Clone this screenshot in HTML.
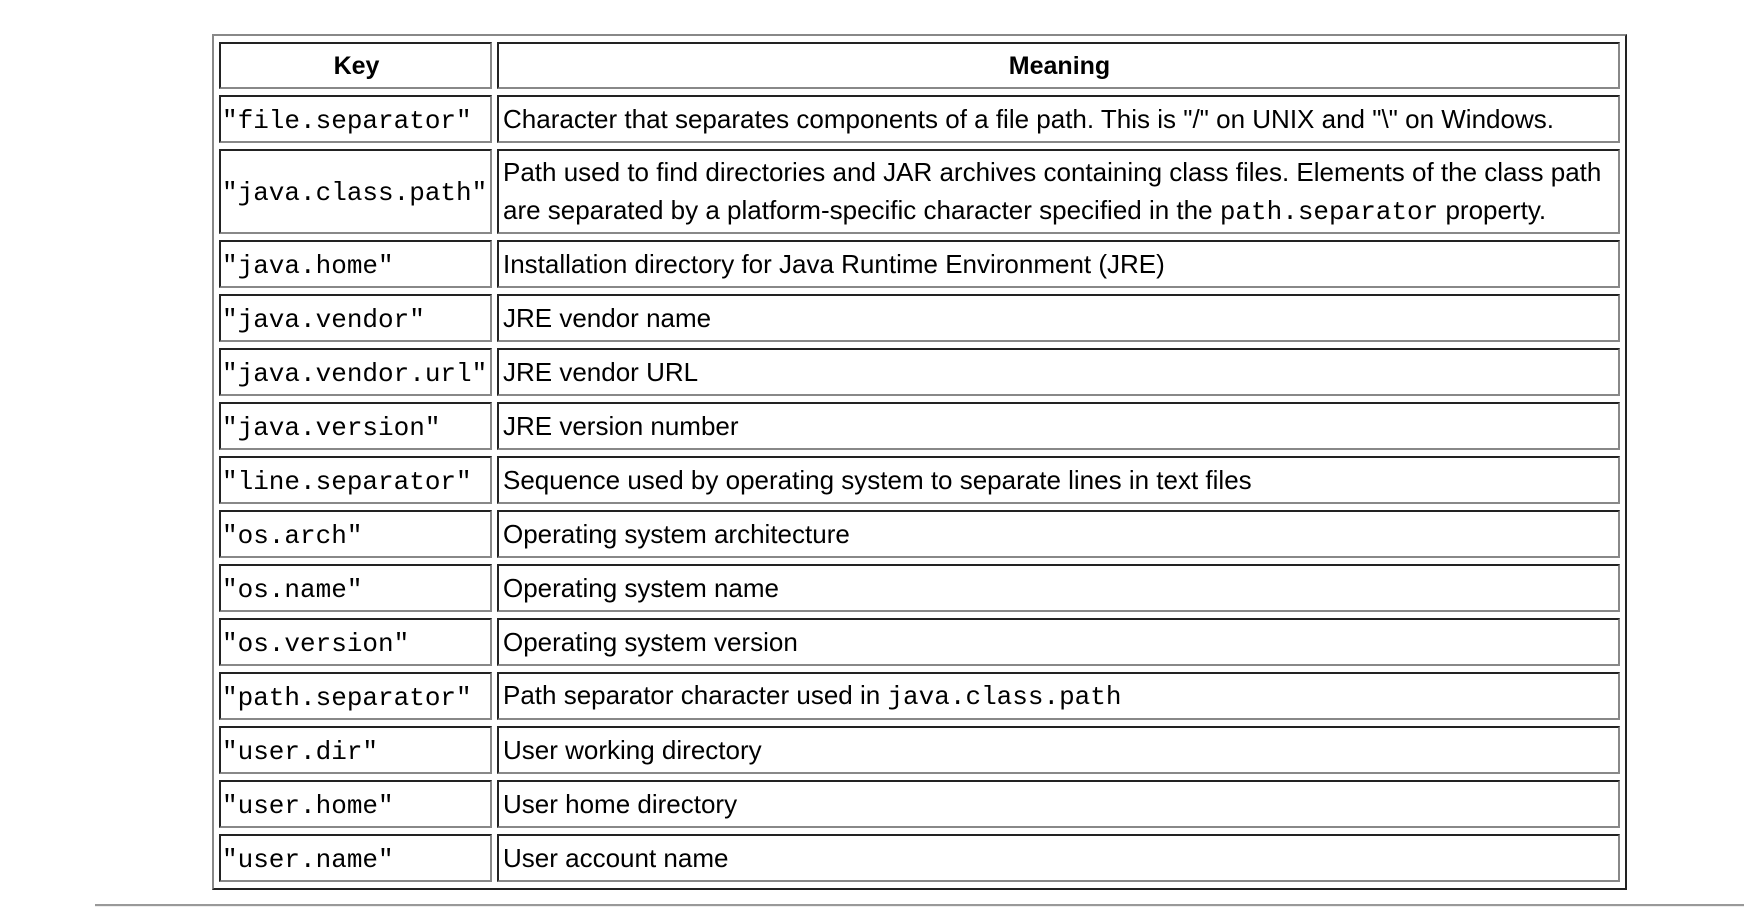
<!DOCTYPE html>
<html><head><meta charset="utf-8"><style>
html,body{margin:0;padding:0;background:#fff;width:1764px;height:920px;overflow:hidden;}
body{position:relative;font-family:"Liberation Sans",Arial,sans-serif;color:#000;}
table{position:absolute;left:212px;top:34px;border-collapse:separate;border-spacing:5px 6px;
 border:2px solid;border-color:#888 #222 #222 #888;table-layout:fixed;}
td,th{box-sizing:border-box;height:48px;border:2px solid;border-color:#222 #888 #888 #222;padding:0 2px 0 4px;
 font-size:26px;vertical-align:middle;text-align:left;line-height:38px;white-space:nowrap;overflow:hidden;}
th{text-align:center;font-weight:bold;font-size:25px;height:47px;}
td.k{width:273px;font-family:"Liberation Mono",monospace;font-size:26px;padding-left:1px;padding-top:3px;}
td.m{width:1123px;}
code{font-family:"Liberation Mono",monospace;font-size:26px;}
tr.d td{height:85px;}
.hr{position:absolute;left:95px;top:904px;width:1649px;height:2px;background:#999;border-bottom:1px solid #eee;}
</style></head><body>
<table>
<colgroup><col style="width:273px"><col style="width:1123px"></colgroup>
<tr><th>Key</th><th>Meaning</th></tr>
<tr><td class="k">"file.separator"</td><td class="m">Character that separates components of a file path. This is "/" on UNIX and "\" on Windows.</td></tr>
<tr class="d"><td class="k">"java.class.path"</td><td class="m">Path used to find directories and JAR archives containing class files. Elements of the class path<br>are separated by a platform-specific character specified in the <code>path.separator</code> property.</td></tr>
<tr><td class="k">"java.home"</td><td class="m">Installation directory for Java Runtime Environment (JRE)</td></tr>
<tr><td class="k">"java.vendor"</td><td class="m">JRE vendor name</td></tr>
<tr><td class="k">"java.vendor.url"</td><td class="m">JRE vendor URL</td></tr>
<tr><td class="k">"java.version"</td><td class="m">JRE version number</td></tr>
<tr><td class="k">"line.separator"</td><td class="m">Sequence used by operating system to separate lines in text files</td></tr>
<tr><td class="k">"os.arch"</td><td class="m">Operating system architecture</td></tr>
<tr><td class="k">"os.name"</td><td class="m">Operating system name</td></tr>
<tr><td class="k">"os.version"</td><td class="m">Operating system version</td></tr>
<tr><td class="k">"path.separator"</td><td class="m">Path separator character used in <code>java.class.path</code></td></tr>
<tr><td class="k">"user.dir"</td><td class="m">User working directory</td></tr>
<tr><td class="k">"user.home"</td><td class="m">User home directory</td></tr>
<tr><td class="k">"user.name"</td><td class="m">User account name</td></tr>
</table>
<div class="hr"></div>
</body></html>
